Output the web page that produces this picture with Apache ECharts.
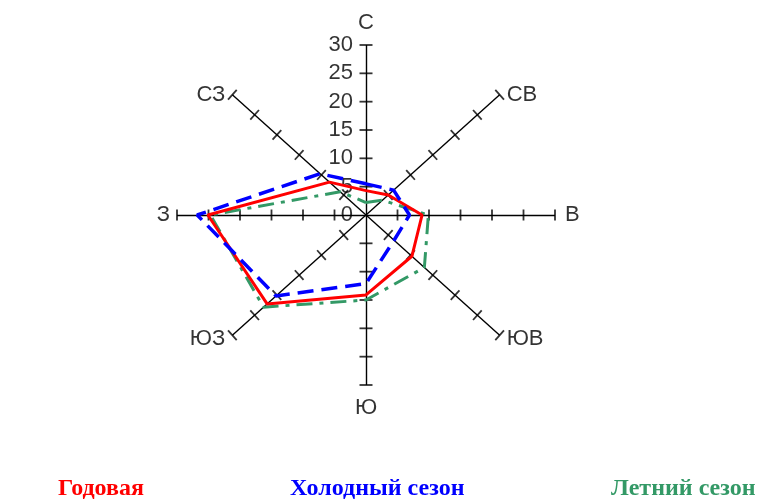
<!DOCTYPE html>
<html><head><meta charset="utf-8">
<script src="https://cdn.jsdelivr.net/npm/echarts@6/dist/echarts.min.js"></script>
<style>html,body{margin:0;padding:0;background:#fff}#c{width:773px;height:502px}</style>
</head><body><div id="c"></div>
<script>
// ---- data ----
const directions = ['С','СВ','В','ЮВ','Ю','ЮЗ','З','СЗ'];
const directionAngles = [0,45,90,135,180,225,270,315]; // compass bearing, degrees
const annual = [4.3, 5.0, 8.9, 10.3, 14.1, 22.2, 25.1, 8.2];
const coldSeason = [5.5, 6.2, 6.9, 6.3, 12.1, 20.2, 26.8, 10.3];
const summerSeason = [2.2, 3.7, 9.9, 13.1, 15.0, 23.0, 24.7, 5.8];
const tickValues = [0, 5, 10, 15, 20, 25, 30];
const tickLabels = ['0','5','10','15','20','25','30'];
const axisMax = 30;
const seriesNames = ['Годовая','Холодный сезон','Летний сезон'];

// ---- layout ----
const G = {left: 177, top: 45, width: 378, height: 340};
const RX = G.width / 2, RY = G.height / 2;
const FONT = 'Liberation Sans, Arial, sans-serif';

function toXY(v, bearing) {
  const r = bearing * Math.PI / 180;
  return [v * Math.sin(r), v * Math.cos(r)];
}
function screenAngle(bearing) {
  const r = bearing * Math.PI / 180;
  return Math.atan2(RY * Math.cos(r), RX * Math.sin(r)) * 180 / Math.PI;
}
function closed(values) {
  const pts = values.map((v, i) => toXY(v, directionAngles[i]));
  pts.push(pts[0]);
  return pts;
}

// spokes
const spokeData = directionAngles.map(b => ({coords: [[0, 0], toXY(axisMax, b)]}));

// ticks (crossing marks)
const tickData = [];
directionAngles.forEach((b, i) => {
  const horiz = (b === 90 || b === 270);
  tickValues.forEach(t => {
    if (t === 0) return;
    tickData.push({
      value: toXY(t, b),
      symbolRotate: screenAngle(b) + 90,
      symbolSize: [horiz ? 11 : 13, 1.8]
    });
  });
});

// tick labels on north axis
const tickLabelData = tickValues.map((t, i) => ({value: [0, t], name: tickLabels[i]}));

// direction names
const namePos = {
  0:   {position: 'top', distance: 11},
  45:  {position: 'right', distance: 7},
  90:  {position: 'right', distance: 10},
  135: {position: 'right', distance: 7, offset: [0, 4]},
  180: {position: 'bottom', distance: 12},
  225: {position: 'left', distance: 7, offset: [0, 4]},
  270: {position: 'left', distance: 7},
  315: {position: 'left', distance: 7}
};
const dirLabelData = directionAngles.map((b, i) => ({
  value: toXY(axisMax, b), name: directions[i], label: namePos[b]
}));

const colors = ['#ff0000', '#0000ff', '#339966'];

const chart = echarts.init(document.getElementById('c'), null, {renderer: 'canvas'});
chart.setOption({
  animation: false,
  backgroundColor: '#ffffff',
  grid: {left: G.left, top: G.top, width: G.width, height: G.height},
  xAxis: {type: 'value', min: -axisMax, max: axisMax, show: false},
  yAxis: {type: 'value', min: -axisMax, max: axisMax, show: false},
  legend: seriesNames.map((n, i) => ({
    data: [{name: n, icon: 'none'}],
    left: [53, 285, 606][i], top: 477,
    padding: 0, itemWidth: 0, itemGap: 0,
    selectedMode: false,
    textStyle: {color: colors[i], fontFamily: 'Liberation Serif, Times New Roman, serif',
                fontWeight: 'bold', fontSize: 24}
  })),
  series: [
    {
      type: 'lines', coordinateSystem: 'cartesian2d', silent: true, z: 1,
      lineStyle: {color: '#000', width: 1.4, opacity: 1, curveness: 0},
      data: spokeData
    },
    {
      type: 'scatter', silent: true, z: 1, symbol: 'rect',
      itemStyle: {color: '#000'},
      data: tickData
    },
    {
      type: 'scatter', silent: true, z: 1, symbolSize: 0,
      label: {show: true, position: 'left', distance: 13, formatter: '{b}',
              color: '#000', fontFamily: FONT, fontSize: 22},
      data: tickLabelData
    },
    {
      type: 'scatter', silent: true, z: 1, symbolSize: 0,
      label: {show: true, formatter: '{b}', color: '#000', fontFamily: FONT, fontSize: 22},
      data: dirLabelData
    },
    {
      name: seriesNames[2], type: 'line', z: 3, symbol: 'none', silent: true,
      lineStyle: {color: colors[2], width: 3, type: [16, 7, 4, 7]},
      itemStyle: {color: colors[2]},
      data: closed(summerSeason)
    },
    {
      name: seriesNames[0], type: 'line', z: 4, symbol: 'none', silent: true,
      lineStyle: {color: colors[0], width: 3},
      itemStyle: {color: colors[0]},
      data: closed(annual)
    },
    {
      name: seriesNames[1], type: 'line', z: 5, symbol: 'none', silent: true,
      lineStyle: {color: colors[1], width: 3.5, type: [16, 8]},
      itemStyle: {color: colors[1]},
      data: closed(coldSeason)
    }
  ]
});
</script>
</body></html>
